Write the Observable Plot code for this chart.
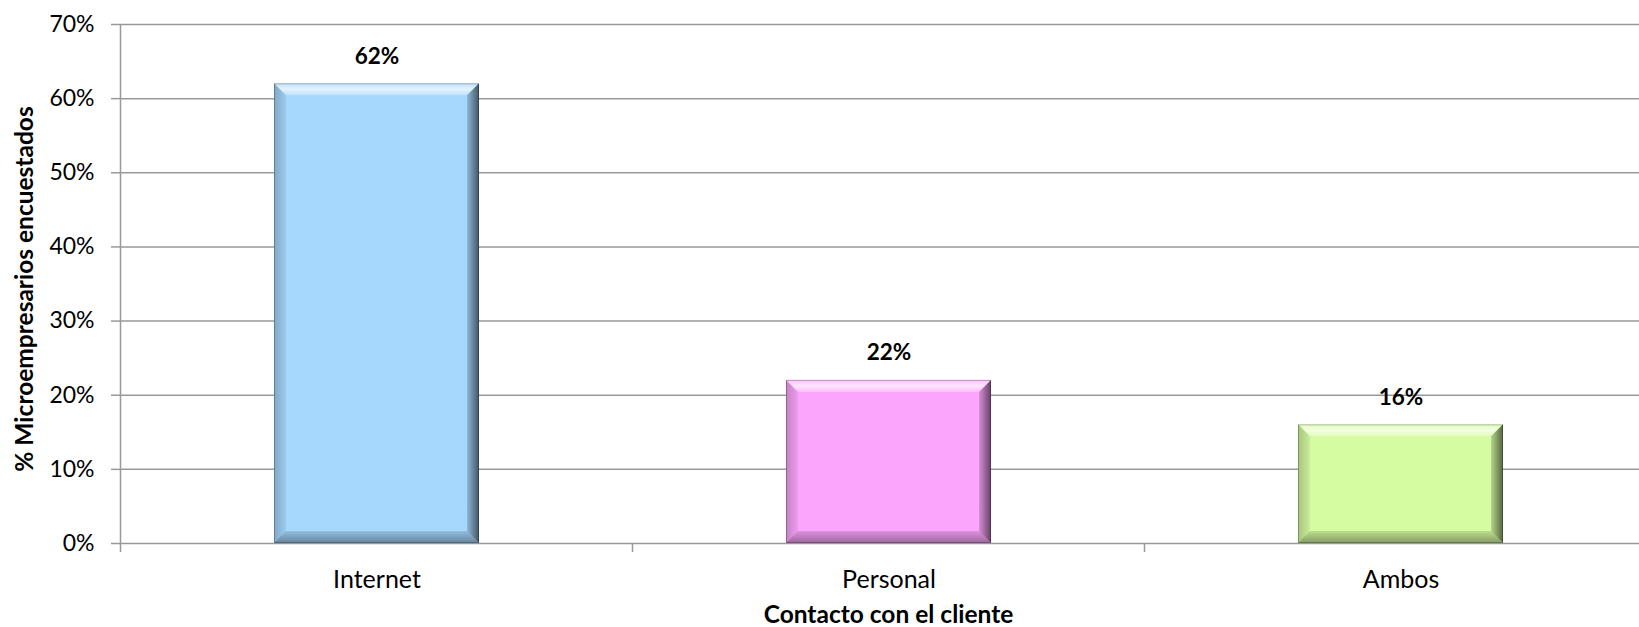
<!DOCTYPE html>
<html>
<head>
<meta charset="utf-8">
<script src="https://cdn.jsdelivr.net/npm/d3@7"></script>
<script src="https://cdn.jsdelivr.net/npm/@observablehq/plot@0.6"></script>
<style>
  html, body { margin: 0; padding: 0; background: #fff; }
  #chart { width: 1639px; height: 627px; overflow: hidden; }
</style>
</head>
<body>
<div id="chart"></div>
<script>
const categories = ["Internet", "Personal", "Ambos"];
const values = [0.62, 0.22, 0.16];
const barColors = ["#a6d7fd", "#fba6fc", "#d5fca1"];
const yTicks = [0, 0.1, 0.2, 0.3, 0.4, 0.5, 0.6, 0.7];
const xTitle = "Contacto con el cliente";
const yTitle = "% Microempresarios encuestados";

const data = categories.map((c, i) => ({cat: c, value: values[i], color: barColors[i]}));
const pct = d3.format(".0%");

function bevels(index, scales, channels, dimensions) {
  const g = d3.create("svg:g");
  const defs = g.append("defs");
  const gr = (id, x2, y2, stops) => {
    const lg = defs.append("linearGradient").attr("id", id)
      .attr("x1", 0).attr("y1", 0).attr("x2", x2).attr("y2", y2);
    stops.forEach(([o, c, a]) => lg.append("stop").attr("offset", o).attr("stop-color", c).attr("stop-opacity", a));
  };
  gr("bvTop", 0, 1, [[0, "#fff", 0.3], [0.5, "#fff", 0.7], [1, "#fff", 0.25]]);
  gr("bvRight", 1, 0, [[0, "#000", 0.15], [1, "#000", 0.6]]);
  gr("bvLeft", 1, 0, [[0, "#000", 0.22], [1, "#000", 0.06]]);
  gr("bvBottom", 0, 1, [[0, "#000", 0.12], [1, "#000", 0.38]]);
  const x = scales.x, y = scales.y;
  const bw = x.bandwidth();
  const b = 12;
  data.forEach(d => {
    const x0 = x(d.cat), x1 = x0 + bw, y0 = y(d.value), y1 = y(0);
    const poly = (pts, fill) => g.append("polygon").attr("points", pts.map(p => p.join(",")).join(" ")).attr("fill", fill);
    poly([[x0, y0], [x1, y0], [x1 - b, y0 + b], [x0 + b, y0 + b]], "url(#bvTop)");
    poly([[x0, y0], [x0 + b, y0 + b], [x0 + b, y1 - b], [x0, y1]], "url(#bvLeft)");
    poly([[x0, y1], [x1, y1], [x1 - b, y1 - b], [x0 + b, y1 - b]], "url(#bvBottom)");
    poly([[x1, y0], [x1 - b, y0 + b], [x1 - b, y1 - b], [x1, y1]], "url(#bvRight)");
    g.append("rect").attr("x", x0 + 0.5).attr("y", y0 + 0.5).attr("width", bw - 1).attr("height", y1 - y0 - 1)
      .attr("fill", "none").attr("stroke", "#000").attr("stroke-opacity", 0.25).attr("stroke-width", 1);
  });
  return g.node();
}

function axisLines(index, scales, channels, dimensions) {
  const g = d3.create("svg:g").attr("stroke", "#999").attr("stroke-width", 1.5);
  const x = scales.x, y = scales.y;
  const step = x.step(), bw = x.bandwidth();
  const left = x(categories[0]) - (step - bw) / 2;
  const yb = y(0);
  g.append("line").attr("x1", left).attr("x2", left).attr("y1", y(yTicks[yTicks.length - 1])).attr("y2", yb + 9);
  categories.forEach((c, i) => {
    if (i === 0) return;
    const xb = x(c) - (step - bw) / 2;
    g.append("line").attr("x1", xb).attr("x2", xb).attr("y1", yb).attr("y2", yb + 9);
  });
  return g.node();
}

const chart = Plot.plot({
  width: 1639,
  height: 627,
  marginTop: 24,
  marginBottom: 84,
  marginLeft: 120,
  marginRight: 0,
  style: {fontFamily: "Lato, 'Open Sans', sans-serif", fontSize: "23px", color: "#000", background: "#fff"},
  x: {domain: categories, range: [120, 1657], paddingInner: 0.6, paddingOuter: 0.3, align: 0.5},
  y: {domain: [0, 0.7]},
  marks: [
    Plot.gridY(yTicks, {stroke: "#999", strokeOpacity: 1, strokeWidth: 1.5}),
    Plot.barY(data, {x: "cat", y: "value", fill: "color"}),
    bevels,
    axisLines,
    Plot.text(data, {x: "cat", y: "value", text: d => pct(d.value), dy: -27.5, fontWeight: "bold", fontSize: 22.5, fill: "#000"}),
    Plot.axisY({ticks: yTicks, tickFormat: pct, tickSize: 9, tickPadding: 17, stroke: "#999", strokeWidth: 1.5, fill: "#000", fontSize: 23, label: null}),
    Plot.axisX({tickSize: 0, tickPadding: 27, fill: "#000", fontSize: 25, label: null}),
    Plot.text([xTitle], {frameAnchor: "bottom", textAnchor: "middle", lineAnchor: "middle", dx: 8.5, dy: 72, fontWeight: "bold", fontSize: 24.5, fill: "#000"}),
    Plot.text([yTitle], {frameAnchor: "left", textAnchor: "middle", lineAnchor: "middle", rotate: -90, dx: -95, dy: 5, fontWeight: "bold", fontSize: 24.5, fill: "#000"})
  ]
});
document.getElementById("chart").appendChild(chart);
</script>
</body>
</html>
